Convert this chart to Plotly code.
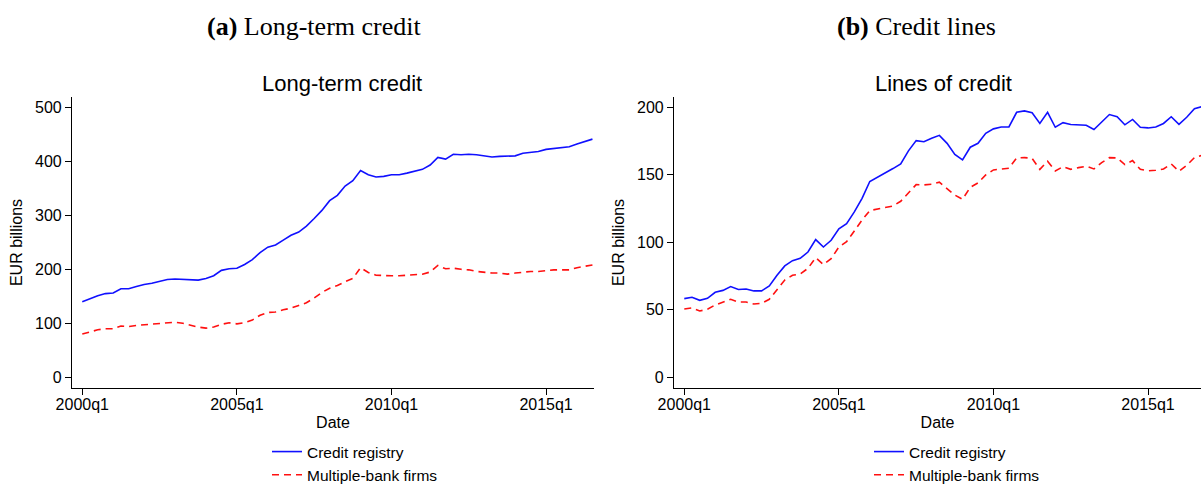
import plotly.graph_objects as go

# ---------------- data ----------------
quarters = [f"{y}q{q}" for y in range(2000, 2017) for q in range(1, 5)]
quarters_lt = quarters[:67]          # 2000q1 .. 2016q3
quarters_cl = quarters[:68]          # 2000q1 .. 2016q4 (last point cut at edge)

lt_registry = [140, 146, 151, 155, 156, 164, 164, 168, 172, 174, 178, 181, 182, 181, 180, 180,
               183, 188, 198, 201, 202, 209, 218, 231, 241, 245, 254, 263, 269, 280, 294, 309,
               327, 337, 354, 364, 383, 375, 371, 372, 375, 375, 378, 382, 385, 393, 407, 404,
               413, 412, 413, 412, 410, 408, 409, 409, 410, 415, 417, 418, 422, 424, 425, 427,
               432, 436, 441]
lt_multibank = [80, 84, 88, 90, 90, 95, 94, 96, 97, 98, 100, 101, 102, 100, 96, 93,
                91, 93, 98, 101, 99, 101, 106, 115, 120, 121, 125, 128, 133, 138, 147, 157,
                165, 170, 177, 183, 203, 194, 189, 188, 188, 188, 189, 190, 191, 195, 207, 201,
                202, 200, 199, 196, 194, 193, 193, 191, 193, 195, 196, 196, 198, 199, 199, 199,
                203, 206, 208]

cl_registry = [58.3, 59.3, 57.0, 58.5, 63.0, 64.4, 67.2, 65.0, 65.4, 64.0, 64.0, 67.7, 75.6, 82.5, 86.4, 88.1,
               92.8, 102.0, 96.5, 101.5, 110.0, 113.8, 122.5, 132.6, 145.0, 148.0, 151.6, 154.6, 158.0, 167.7, 175.3, 174.5,
               177.0, 179.2, 173.3, 165.0, 161.0, 170.4, 173.3, 180.7, 184.0, 185.4, 185.4, 196.3, 197.3, 196.0, 188.0, 196.3,
               185.2, 188.6, 187.2, 186.7, 186.7, 183.5, 189.0, 194.6, 193.0, 187.0, 191.0, 185.2, 184.7, 185.4, 188.0, 193.0,
               187.4, 192.6, 199.0, 200.5]
cl_multibank = [50.6, 51.4, 49.1, 50.4, 53.6, 55.6, 57.8, 55.8, 55.8, 54.3, 54.8, 57.8, 65.0, 72.0, 75.6, 76.5,
                80.7, 88.6, 83.5, 87.9, 96.5, 100.5, 108.4, 116.5, 123.5, 124.7, 125.4, 126.9, 130.4, 136.8, 142.7, 142.5,
                143.0, 144.5, 140.0, 135.0, 131.9, 140.7, 144.0, 149.9, 153.6, 154.3, 154.8, 162.5, 162.7, 162.2, 154.0, 160.0,
                152.8, 156.0, 154.0, 155.3, 156.3, 154.3, 159.0, 162.7, 162.5, 157.5, 160.5, 154.0, 153.0, 153.3, 154.3, 158.0,
                152.6, 157.0, 162.7, 164.5]

xtick_labels = ["2000q1", "2005q1", "2010q1", "2015q1"]
lt_yticks = [0, 100, 200, 300, 400, 500]
cl_yticks = [0, 50, 100, 150, 200]

series_names = ["Credit registry", "Multiple-bank firms"]

# ---------------- style ----------------
W, H = 1201, 484
SANS = "Liberation Sans, Arial, Helvetica, sans-serif"
SERIF = "Liberation Serif, Times New Roman, serif"
BLUE = "#1010ff"
RED = "#ff1010"

def px_x(p):
    return p / W

def px_y(p):
    return 1 - p / H

fig = go.Figure()

# left panel
fig.add_trace(go.Scatter(x=quarters_lt, y=lt_registry, mode="lines", name=series_names[0],
                         line=dict(color=BLUE, width=1.6), xaxis="x", yaxis="y", legend="legend"))
fig.add_trace(go.Scatter(x=quarters_lt, y=lt_multibank, mode="lines", name=series_names[1],
                         line=dict(color=RED, width=1.6, dash="7px,5px"), xaxis="x", yaxis="y", legend="legend"))
# right panel
fig.add_trace(go.Scatter(x=quarters_cl, y=cl_registry, mode="lines", name=series_names[0],
                         line=dict(color=BLUE, width=1.6), xaxis="x2", yaxis="y2", legend="legend2"))
fig.add_trace(go.Scatter(x=quarters_cl, y=cl_multibank, mode="lines", name=series_names[1],
                         line=dict(color=RED, width=1.6, dash="7px,5px"), xaxis="x2", yaxis="y2", legend="legend2"))

axis_common = dict(showgrid=False, zeroline=False, showline=True, linecolor="black", linewidth=1.2,
                   ticks="outside", ticklen=6, tickwidth=1.2, tickcolor="black", automargin=False,
                   tickfont=dict(family=SANS, size=16, color="black"))

ydom = [px_y(388), px_y(97)]

fig.update_layout(
    width=W, height=H,
    margin=dict(l=0, r=0, t=0, b=0, autoexpand=False),
    paper_bgcolor="white", plot_bgcolor="white",
    font=dict(family=SANS, size=16, color="black"),
    xaxis=dict(domain=[px_x(72), px_x(594)], type="category", range=[-1.33, 66.2],
               tickmode="array", tickvals=xtick_labels, ticktext=xtick_labels, ticklabelstandoff=-4,
               title=dict(text="Date", font=dict(family=SANS, size=16), standoff=4),
               anchor="y", **axis_common),
    yaxis=dict(domain=ydom, range=[-19.8, 519], tickmode="array", tickvals=lt_yticks,
               title=dict(text="EUR billions", font=dict(family=SANS, size=16), standoff=8),
               anchor="x", **axis_common),
    xaxis2=dict(domain=[px_x(674), 1.0], type="category", range=[-1.33, 66.85],
                tickmode="array", tickvals=xtick_labels, ticktext=xtick_labels, ticklabelstandoff=-4,
                title=dict(text="Date", font=dict(family=SANS, size=16), standoff=4),
                anchor="y2", **axis_common),
    yaxis2=dict(domain=ydom, range=[-7.9, 207.6], tickmode="array", tickvals=cl_yticks,
                title=dict(text="EUR billions", font=dict(family=SANS, size=16), standoff=8),
                anchor="x2", **axis_common),
    legend=dict(x=px_x(267), y=px_y(435), xanchor="left", yanchor="top",
                font=dict(family=SANS, size=15.5), bgcolor="rgba(0,0,0,0)", tracegroupgap=0),
    legend2=dict(x=px_x(869), y=px_y(435), xanchor="left", yanchor="top",
                 font=dict(family=SANS, size=15.5), bgcolor="rgba(0,0,0,0)", tracegroupgap=0),
    showlegend=True,
)

annotations = [
    dict(text="<b>(a)</b> Long-term credit", x=px_x(314), y=px_y(26), font=dict(family=SERIF, size=26)),
    dict(text="<b>(b)</b> Credit lines", x=px_x(916), y=px_y(26), font=dict(family=SERIF, size=26)),
    dict(text="Long-term credit", x=px_x(342), y=px_y(83), font=dict(family=SANS, size=22)),
    dict(text="Lines of credit", x=px_x(943), y=px_y(83), font=dict(family=SANS, size=22)),
]
for a in annotations:
    a.update(xref="paper", yref="paper", xanchor="center", yanchor="middle", showarrow=False)
fig.update_layout(annotations=annotations)

fig.write_html("out.html", config={"displayModeBar": False},
               post_script="document.body.style.margin='0';document.body.style.overflow='hidden';")
